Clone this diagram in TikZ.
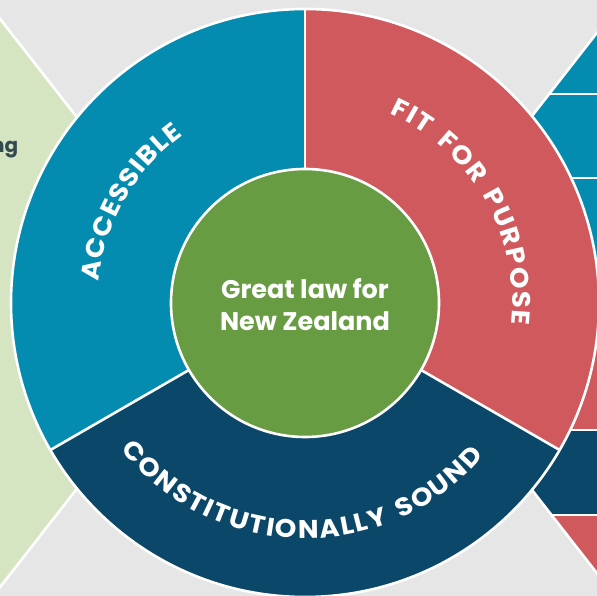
\documentclass[tikz,border=0pt]{standalone}
\usepackage{fontspec}
\setmainfont{Poppins}
\newfontfamily\ringfam{Poppins}[FakeStretch=1.08]
\usetikzlibrary{calc}
\definecolor{bg}{RGB}{230,230,230}
\definecolor{acc}{RGB}{4,140,176}
\definecolor{fit}{RGB}{208,89,93}
\definecolor{con}{RGB}{10,71,104}
\definecolor{lawgreen}{RGB}{103,156,67}
\definecolor{lgreen}{RGB}{214,229,193}
\definecolor{ngtext}{RGB}{50,75,80}
\newsavebox\chbox
\newcommand\rf{\ringfam\bfseries\fontsize{25.5}{25.5}\selectfont}
\newcommand\storew[1]{\sbox\chbox{\rf #1}\expandafter\xdef\csname cw#1\endcsname{\the\wd\chbox}}
\def\gapmark{-}
\newcommand\arcword[6]{%
  \xdef\natw{0}\xdef\nch{0}%
  \foreach \ch in {#6}{%
    \pgfmathsetmacro\tmpv{\natw+\csname cw\ch\endcsname}\xdef\natw{\tmpv}%
    \pgfmathtruncatemacro\tmpv{\nch+1}\xdef\nch{\tmpv}%
  }%
  \pgfmathsetmacro\arclen{#5*pi/180*#2}\xdef\arclen{\arclen}%
  \pgfmathsetmacro\trk{(\arclen-\natw)/(\nch-1)}\xdef\trk{\trk}%
  \xdef\spos{0}%
  \foreach \ch [count=\i] in {#6}{%
    \pgfmathsetmacro\chw{\csname cw\ch\endcsname}%
    \pgfmathsetmacro\soff{\spos+0.5*\chw-\arclen/2}%
    \pgfmathsetmacro\ang{#3-(#4)*\soff/#2*180/pi}%
    \pgfmathsetmacro\rot{\ang-(#4)*90}%
    \ifx\ch\gapmark\else
      \node[ringtext, rotate=\rot, anchor=base] (#1\i) at ($(C)+(\ang:#2)$) {\ch};
    \fi
    \pgfmathsetmacro\tmpv{\spos+\chw+\trk}\xdef\spos{\tmpv}%
  }%
}
\tikzset{
  ringtext/.style={text=white, inner sep=0pt, font=\rf},
  gap/.style={draw=white, line width=2.6pt},
  coretext/.style={text=white, inner sep=0pt, font=\bfseries\fontsize{25.5}{25.5}\selectfont, anchor=base},
}
\begin{document}
\storew{A}\storew{B}\storew{C}\storew{D}\storew{E}\storew{F}\storew{I}\storew{L}%
\storew{N}\storew{O}\storew{P}\storew{R}\storew{S}\storew{T}\storew{U}\storew{Y}%
\expandafter\gdef\csname cw-\endcsname{9pt}%
\begin{tikzpicture}[x=1pt,y=1pt]
\useasboundingbox (0,0) rectangle (597,596);
\clip (0,0) rectangle (597,596);
\fill[bg] (0,0) rectangle (597,596);
\coordinate (C) at (305,293);
% left diamond
\coordinate (LV) at (222,293);
\coordinate (LT) at (-60,654);
\coordinate (LB) at (-60,-68);
\fill[lgreen] (LV) -- (LT) -- (LB) -- cycle;
\draw[gap] (LV) -- (LT) -- (LB) -- cycle;
\node[anchor=base east, inner sep=0pt, text=ngtext, font=\bfseries\fontsize{20}{20}\selectfont] (ng) at (18.5,443) {ng};
% right diamond with stripes
\coordinate (RV) at (386,293);
\coordinate (RT) at (660,644);
\coordinate (RB) at (660,-58);
\begin{scope}
  \clip (RV) -- (RT) -- (RB) -- cycle;
  \fill[acc] (380,293) rectangle (700,700);
  \fill[fit] (380,166) rectangle (700,293);
  \fill[con] (380,81) rectangle (700,166);
  \fill[fit] (380,-100) rectangle (700,81);
  \foreach \yy in {502,418,166,81} \draw[gap] (380,\yy) -- (700,\yy);
\end{scope}
\draw[gap] (RV) -- (RT) -- (RB) -- cycle;
% main ring
\fill[acc] (C) -- ($(C)+(90:294)$) arc[start angle=90, end angle=210, radius=294] -- cycle;
\fill[con] (C) -- ($(C)+(210:294)$) arc[start angle=210, end angle=330, radius=294] -- cycle;
\fill[fit] (C) -- ($(C)+(330:294)$) arc[start angle=330, end angle=450, radius=294] -- cycle;
\foreach \a in {90,210,330} \draw[gap] (C) -- ($(C)+(\a:294)$);
\draw[gap] (C) circle[radius=294];
\fill[lawgreen] (C) circle[radius=134];
\draw[gap] (C) circle[radius=134];
% centre text
\node[coretext] (core1) at (305,297) {Great law for};
\node[coretext] (core2) at (305,265) {New Zealand};
% ring texts
\arcword{acc}{207.5}{150}{1}{48}{A,C,C,E,S,S,I,B,L,E}
\arcword{fit}{207.5}{30}{1}{72}{F,I,T,-,F,O,R,-,P,U,R,P,O,S,E}
\arcword{con}{235.5}{269}{-1}{101}{C,O,N,S,T,I,T,U,T,I,O,N,A,L,L,Y,-,S,O,U,N,D}
\end{tikzpicture}
\end{document}
